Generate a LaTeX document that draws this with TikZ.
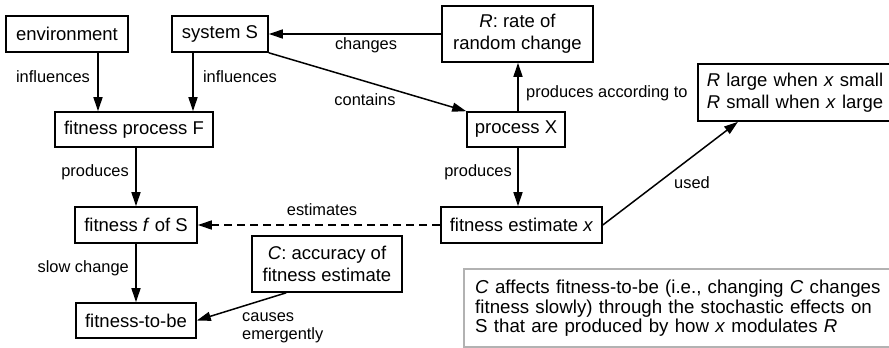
\documentclass[tikz,border=0pt]{standalone}
\usepackage{fontspec}
\setmainfont{Liberation Sans}
\usetikzlibrary{arrows.meta,calc}
\begin{document}
\begin{tikzpicture}[x=1pt,y=-1pt,
  box/.style={draw=black,line width=1.6pt,inner sep=2pt,font=\fontsize{18.5}{22}\selectfont,align=center},
  lbl/.style={inner sep=0pt,font=\fontsize{16.4}{18}\selectfont},
  arr/.style={line width=1.5pt,-{Triangle[length=14pt,width=9pt]}},
  note/.style={draw=black!30,line width=2.4pt,inner xsep=11pt,inner ysep=4pt,align=left,text width=420pt,font=\fontsize{18.7}{19.5}\selectfont}]
\useasboundingbox (0,0) rectangle (889,348);
\clip (0,0) rectangle (889,348);
% nodes
\node[box,minimum width=122pt,minimum height=36pt] (env) at (67,34) {environment};
\node[box,minimum width=96pt,minimum height=36pt] (sys) at (220,34) {system S};
\node[box,minimum width=151pt,minimum height=56pt] (R) at (517.5,34) {\textit{R}: rate of\\random change};
\node[box,anchor=west,text width=200pt,align=left,inner xsep=9pt,minimum height=57pt] (Rl) at (697,92.5) {\textit{R} large when \textit{x} small\\\textit{R} small when \textit{x} large};
\node[box,minimum width=158pt,minimum height=35pt] (F) at (134,129.5) {fitness process F};
\node[box,minimum width=98pt,minimum height=35pt] (X) at (516,129.5) {process X};
\node[box,minimum width=122pt,minimum height=36pt] (f) at (136,225) {fitness \textit{f} of S};
\node[box,minimum width=161pt,minimum height=36pt] (fe) at (521.5,225) {fitness estimate \textit{x}};
\node[box,minimum width=150pt,minimum height=56pt] (C) at (327,264) {\textit{C}: accuracy of\\fitness estimate};
\node[box,minimum width=120pt,minimum height=35pt] (tb) at (136,320.5) {fitness-to-be};
\node[note,anchor=north west,minimum height=78pt] (nt) at (463,268) {\textit{C} affects fitness-to-be (i.e., changing \textit{C} changes\\fitness slowly) through the stochastic effects on\\S that are produced by how \textit{x} modulates \textit{R}};
% connectors
\draw[arr] ([xshift=31pt]env.south) -- ([xshift=31pt]env.south |- F.north);
\draw[arr] ([xshift=-27pt]sys.south) -- ([xshift=-27pt]sys.south |- F.north);
\draw[arr] (R.west) -- (sys.east);
\draw[arr] (sys.south east) -- (X.north west);
\draw[arr] ([xshift=2pt]X.north) -- ([xshift=2pt]X.north |- R.south);
\draw[arr] ([xshift=2pt]X.south) -- ([xshift=2pt]X.south |- fe.north);
\draw[arr] (fe.east) -- ([xshift=41pt]Rl.south west);
\draw[arr] (f.north |- F.south) -- (f.north);
\draw[arr,dash pattern=on 8pt off 5pt] (fe.west) -- (f.east);
\draw[arr] (f.south) -- (tb.north);
\draw[arr] ([xshift=35pt]C.south west) -- (tb.east);
% labels
\node[lbl] (l1) at (53,77) {influences};
\node[lbl] (l2) at (240,77) {influences};
\node[lbl] (l3) at (366,45) {changes};
\node[lbl] (l4) at (365,100) {contains};
\node[lbl,anchor=west] (l5) at (526,93) {produces according to};
\node[lbl,anchor=east] (l6) at (512,172) {produces};
\node[lbl] (l7) at (692,183) {used};
\node[lbl,anchor=east] (l8) at (129,172) {produces};
\node[lbl] (l9) at (322,210) {estimates};
\node[lbl,anchor=east] (l10) at (129,268) {slow change};
\node[lbl,anchor=north west,align=left,font=\fontsize{16.4}{18}\selectfont] (l11) at (242,312) {causes\\emergently};
\end{tikzpicture}
\end{document}
